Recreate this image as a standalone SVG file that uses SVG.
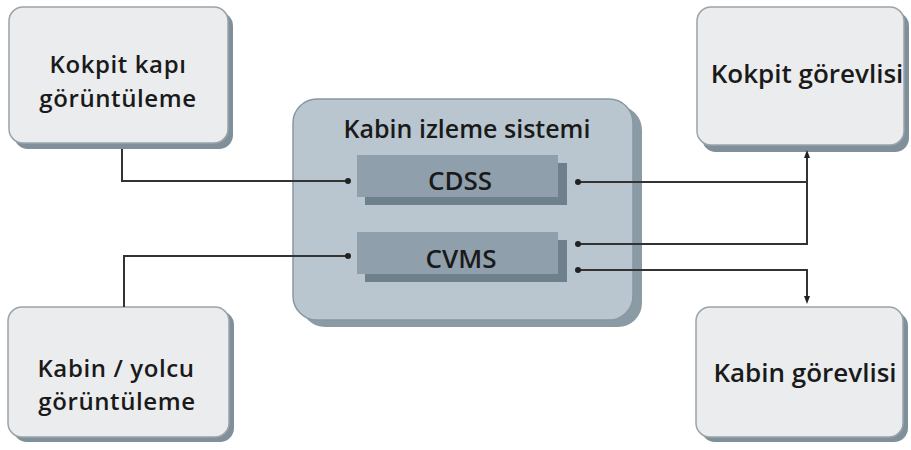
<svg xmlns="http://www.w3.org/2000/svg" width="911" height="450" viewBox="0 0 911 450">
<style>
.node{fill:#ebeced;stroke:#9aa4aa;stroke-width:1.5}
.shadow{fill:#7f909b}
.outer{fill:#b9c6cf;stroke:#8798a3;stroke-width:1.5}
.outershadow{fill:#8a9ba6}
.inner{fill:#8fa0ac}
.innershadow{fill:#6e808c}
.t{font-family:"Open Sans","DejaVu Sans",sans-serif;font-size:26px;fill:#1a1a1a;text-anchor:middle;font-weight:600}
.two{font-size:24px;letter-spacing:0.6px}
.title{font-size:25px}
.c{fill:none;stroke:#333;stroke-width:2}
</style>
<defs>
<marker id="dot" markerWidth="7" markerHeight="7" refX="3.5" refY="3.5" markerUnits="userSpaceOnUse"><circle cx="3.5" cy="3.5" r="3" fill="#222"/></marker>
<marker id="arr" markerWidth="8" markerHeight="8" refX="4" refY="4" orient="auto" markerUnits="userSpaceOnUse"><path d="M0,1 L8,4 L0,7 Z" fill="#222"/></marker>
</defs>
<rect width="911" height="450" fill="#fff"/>
<g id="kokpit-kapi">
<rect class="shadow" x="14" y="12" width="219" height="137" rx="14"/>
<rect class="node" x="9" y="7" width="219" height="136" rx="14"/>
<text class="t two" x="118" y="73">Kokpit kapı</text>
<text class="t two" x="118" y="107">görüntüleme</text>
</g>
<g id="kabin-yolcu">
<rect class="shadow" x="13" y="311" width="221" height="131" rx="14"/>
<rect class="node" x="8" y="307" width="221" height="130" rx="14"/>
<text class="t two" x="116" y="377">Kabin / yolcu</text>
<text class="t two" x="117" y="410">görüntüleme</text>
</g>
<g id="kokpit-gorevlisi">
<rect class="shadow" x="702" y="12" width="207" height="140" rx="14"/>
<rect class="node" x="697" y="7" width="207" height="138" rx="14"/>
<text class="t" x="807" y="83">Kokpit görevlisi</text>
</g>
<g id="kabin-gorevlisi">
<rect class="shadow" x="701" y="312" width="207" height="130" rx="14"/>
<rect class="node" x="696" y="307" width="207" height="130" rx="14"/>
<text class="t" x="805" y="382">Kabin görevlisi</text>
</g>
<g id="kabin-izleme-sistemi">
<rect class="outershadow" x="301" y="106" width="341" height="221" rx="24"/>
<rect class="outer" x="293" y="99" width="340" height="221" rx="24"/>
<text class="t title" x="467" y="138">Kabin izleme sistemi</text>
</g>
<g id="cdss">
<rect class="innershadow" x="365" y="163" width="202" height="42"/>
<rect class="inner" x="357" y="155" width="201" height="42"/>
<text class="t" x="460" y="190">CDSS</text>
</g>
<g id="cvms">
<rect class="innershadow" x="365" y="240" width="202" height="42"/>
<rect class="inner" x="357" y="232" width="201" height="42"/>
<text class="t" x="461" y="268">CVMS</text>
</g>
<g id="connectors">
<path class="c" d="M122,149 V181 H348" marker-end="url(#dot)"/>
<path class="c" d="M124,307 V256 H348" marker-end="url(#dot)"/>
<path class="c" d="M578,182 H807" marker-start="url(#dot)"/>
<path class="c" d="M578,244 H807 V154" marker-start="url(#dot)" marker-end="url(#arr)"/>
<path class="c" d="M578,270 H807 V300" marker-start="url(#dot)" marker-end="url(#arr)"/>
</g>
</svg>
